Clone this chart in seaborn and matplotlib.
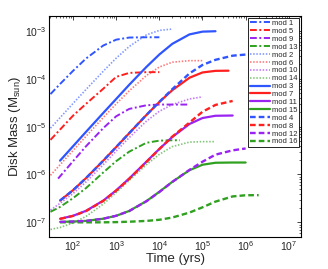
# =============================================================================
# plot.py
# Disk mass vs time for 16 accretion models (log-log)
# =============================================================================

import matplotlib
matplotlib.use('Agg')
import matplotlib.pyplot as plt
import seaborn as sns
import pandas as pd


# -----------------------------------------------------------------------------
# 1. DATA
# -----------------------------------------------------------------------------

t_mod1 = [30, 50, 100, 200, 500, 1e3, 2e3, 5e3, 1e4]
m_mod1 = [4.8e-5, 7.8e-5, 1.47e-4, 2.66e-4, 4.97e-4, 6.6e-4, 7.3e-4, 7.4e-4, 7.4e-4]

t_mod2 = [30, 50, 100, 200, 500, 1e3, 2e3, 5e3, 1e4, 2e4]
m_mod2 = [9.3e-6, 1.54e-5, 3.06e-5, 6.0e-5, 1.44e-4, 2.71e-4, 4.74e-4, 8.3e-4, 1.03e-3, 1.1e-3]

t_mod3 = [50, 100, 200, 500, 1e3, 2e3, 5e3, 1e4, 2e4, 5e4, 1e5, 2e5]
m_mod3 = [1.95e-6, 3.9e-6, 7.8e-6, 1.93e-5, 3.8e-5, 7.5e-5, 1.77e-4, 3.23e-4, 5.4e-4, 8.5e-4, 9.7e-4, 9.9e-4]

t_mod4 = [50, 100, 200, 500, 1e3, 2e3, 5e3, 1e4, 2e4, 5e4, 1e5, 2e5, 5e5, 1e6, 2e6]
m_mod4 = [2.85e-7, 4.7e-7, 8.4e-7, 1.94e-6, 3.75e-6, 7.3e-6, 1.75e-5, 3.3e-5, 6.1e-5, 1.3e-4,
          1.95e-4, 2.5e-4, 3.05e-4, 3.22e-4, 3.3e-4]

t_mod5 = [30, 50, 100, 200, 500, 1e3, 2e3, 5e3, 1e4]
m_mod5 = [5.3e-6, 8.7e-6, 1.7e-5, 3.0e-5, 6.2e-5, 1.1e-4, 1.33e-4, 1.38e-4, 1.38e-4]

t_mod6 = [30, 50, 100, 200, 500, 1e3, 2e3, 5e3, 1e4, 2e4, 5e4, 1e5]
m_mod6 = [9.6e-7, 1.6e-6, 3.18e-6, 6.3e-6, 1.55e-5, 3.0e-5, 5.6e-5, 1.17e-4, 1.77e-4, 2.23e-4, 2.4e-4, 2.4e-4]

t_mod7 = [50, 100, 200, 500, 1e3, 2e3, 5e3, 1e4, 2e4, 5e4, 1e5, 2e5, 4e5]
m_mod7 = [2.85e-7, 4.7e-7, 8.4e-7, 1.94e-6, 3.75e-6, 7.3e-6, 1.75e-5, 3.28e-5, 5.8e-5, 1.055e-4,
          1.36e-4, 1.47e-4, 1.48e-4]

t_mod8 = [50, 100, 200, 500, 1e3, 2e3, 5e3, 1e4, 2e4, 5e4, 1e5, 2e5, 5e5]
m_mod8 = [1.18e-7, 1.36e-7, 1.72e-7, 2.8e-7, 4.6e-7, 8.1e-7, 1.82e-6, 3.4e-6, 6.2e-6, 1.22e-5,
          2.05e-5, 2.85e-5, 3.45e-5]

t_mod9 = [45, 100, 200, 500, 1e3, 2e3, 5e3, 1e4, 2e4, 5e4]
m_mod9 = [8.2e-7, 1.9e-6, 3.9e-6, 9.3e-6, 1.65e-5, 2.35e-5, 2.8e-5, 2.9e-5, 2.9e-5, 2.9e-5]

t_mod10 = [30, 50, 100, 200, 500, 1e3, 2e3, 5e3, 1e4, 2e4, 5e4, 1e5]
m_mod10 = [1.8e-7, 2.5e-7, 4.0e-7, 7.0e-7, 1.6e-6, 3.1e-6, 5.9e-6, 1.3e-5, 2.1e-5, 2.9e-5, 3.8e-5, 4.2e-5]

t_mod11 = [50, 100, 200, 500, 1e3, 2e3, 5e3, 1e4, 2e4, 5e4, 1e5, 2e5, 5e5]
m_mod11 = [1.185e-7, 1.37e-7, 1.74e-7, 2.84e-7, 4.66e-7, 8.24e-7, 1.85e-6, 3.42e-6, 6.1e-6, 1.137e-5,
           1.516e-5, 1.69e-5, 1.71e-5]

t_mod12 = [50, 100, 200, 500, 1e3, 2e3, 5e3, 1e4, 2e4, 5e4, 1e5, 2e5, 5e5, 1e6]
m_mod12 = [1.02e-7, 1.04e-7, 1.07e-7, 1.19e-7, 1.37e-7, 1.72e-7, 2.75e-7, 4.3e-7, 7.0e-7, 1.25e-6,
           1.85e-6, 2.6e-6, 3.2e-6, 3.5e-6]

t_mod13 = [30, 50, 100, 200, 500, 1e3, 2e3, 5e3, 1e4, 2e4, 3e4]
m_mod13 = [1.66e-7, 2.1e-7, 3.2e-7, 5.2e-7, 1.1e-6, 1.9e-6, 3.0e-6, 4.6e-6, 5.1e-6, 5.2e-6, 5.2e-6]

t_mod14 = [30, 50, 100, 200, 500, 1e3, 2e3, 5e3, 1e4, 2e4, 5e4, 1e5, 2e5]
m_mod14 = [7.1e-8, 7.8e-8, 9.7e-8, 1.33e-7, 2.4e-7, 4.2e-7, 7.5e-7, 1.6e-6, 2.64e-6, 3.83e-6,
           4.76e-6, 4.86e-6, 4.86e-6]

t_mod15 = [50, 100, 200, 500, 1e3, 2e3, 5e3, 1e4, 2e4, 5e4, 1e5, 2e5, 5e5, 1e6]
m_mod15 = [1.02e-7, 1.04e-7, 1.07e-7, 1.19e-7, 1.37e-7, 1.73e-7, 2.77e-7, 4.35e-7, 7.03e-7, 1.23e-6,
           1.6e-6, 1.76e-6, 1.78e-6, 1.78e-6]

t_mod16 = [50, 100, 200, 500, 1e3, 2e3, 5e3, 1e4, 2e4, 5e4, 1e5, 2e5, 5e5, 1e6, 2e6]
m_mod16 = [1.0e-7, 1.0e-7, 1.0e-7, 1.0e-7, 1.01e-7, 1.03e-7, 1.07e-7, 1.13e-7, 1.26e-7, 1.6e-7,
           2.06e-7, 2.71e-7, 3.48e-7, 3.68e-7, 3.7e-7]

# legend order of the reference
legend_order = [1, 5, 9, 13, 2, 6, 10, 14, 3, 7, 11, 15, 4, 8, 12, 16]

series = {
    1: (t_mod1, m_mod1), 2: (t_mod2, m_mod2), 3: (t_mod3, m_mod3), 4: (t_mod4, m_mod4),
    5: (t_mod5, m_mod5), 6: (t_mod6, m_mod6), 7: (t_mod7, m_mod7), 8: (t_mod8, m_mod8),
    9: (t_mod9, m_mod9), 10: (t_mod10, m_mod10), 11: (t_mod11, m_mod11), 12: (t_mod12, m_mod12),
    13: (t_mod13, m_mod13), 14: (t_mod14, m_mod14), 15: (t_mod15, m_mod15), 16: (t_mod16, m_mod16),
}

# -----------------------------------------------------------------------------
# 2. STYLES : colour by group of 4, line style by position in group
# -----------------------------------------------------------------------------

colors = ['#2f55ff', '#ff1f1f', '#9a22f2', '#2fa01f']
styles = {
    0: dict(dashes=(3.5, 1.3, 1, 1.3), lw=1.4, alpha=1.0),   # dash-dot
    1: dict(dashes=(0.9, 1.0), lw=1.2, alpha=0.6),           # dotted
    2: dict(dashes=None, lw=1.6, alpha=1.0),                 # solid
    3: dict(dashes=(2.4, 1.3), lw=1.7, alpha=1.0),           # dashed
}

rows = []
for k, (tt, mm) in series.items():
    for t, m in zip(tt, mm):
        rows.append({'model': f'mod {k}', 'time': t, 'mass': m})
df = pd.DataFrame(rows)

# -----------------------------------------------------------------------------
# 3. FIGURE
# -----------------------------------------------------------------------------

sns.set_theme(style='white')
plt.rcParams['font.family'] = ['Liberation Sans', 'DejaVu Sans']
plt.rcParams['mathtext.default'] = 'regular'

fig = plt.figure(figsize=(3.28, 2.69), dpi=100)
ax = fig.add_axes([0.150, 0.120, 0.768, 0.8205])

# draw in reverse legend order so early groups stay on top
for k in sorted(series.keys(), reverse=True):
    group = (k - 1) // 4
    pos = (k - 1) % 4
    st = styles[pos]
    sub = df[df['model'] == f'mod {k}']
    sns.lineplot(data=sub, x='time', y='mass', ax=ax, color=colors[group],
                 lw=st['lw'], alpha=st['alpha'], label=f'mod {k}',
                 estimator=None, sort=False)
    line = ax.get_lines()[-1]
    if st['dashes'] is not None:
        line.set_dashes(st['dashes'])

ax.set_xscale('log')
ax.set_yscale('log')
ax.set_xlim(28, 1.93e7)
ax.set_ylim(5e-8, 2.06e-3)

ax.set_xlabel('Time (yrs)', fontsize=9.5, labelpad=0)
ax.set_ylabel('Disk Mass (M$_{sun}$)', fontsize=9.5, labelpad=1)

ax.tick_params(which='both', direction='in', top=True, right=True, labelsize=7.5, pad=2)
ax.tick_params(which='major', length=3, width=0.6)
ax.tick_params(which='minor', length=1.5, width=0.5)
for sp in ax.spines.values():
    sp.set_color('black')
    sp.set_linewidth(0.8)

handles, labels = ax.get_legend_handles_labels()
lookup = dict(zip(labels, handles))
leg = ax.legend([lookup[f'mod {k}'] for k in legend_order],
                [f'mod {k}' for k in legend_order],
                loc='upper right', fontsize=5.5, frameon=True, fancybox=False,
                edgecolor='black', framealpha=1, borderaxespad=0.25,
                labelspacing=0.07, handlelength=2.6, handletextpad=0.2, borderpad=0.25)
leg.get_frame().set_linewidth(0.6)

plt.savefig('out.png', dpi=100)
plt.close()
